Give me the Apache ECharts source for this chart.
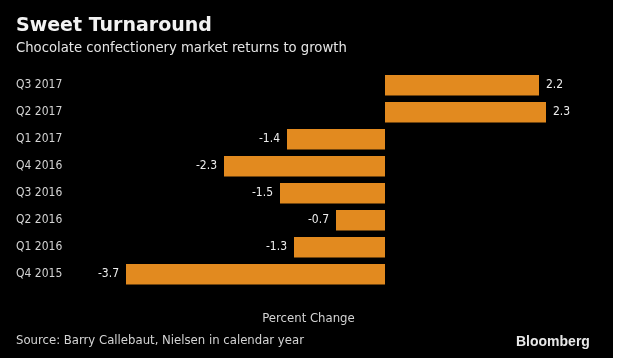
<!DOCTYPE html>
<html>
<head>
<meta charset="utf-8">
<script src="https://cdn.jsdelivr.net/npm/echarts@6/dist/echarts.min.js"></script>
<style>
html,body{margin:0;padding:0;background:#fff;}
#c{width:613px;height:358px;background:#000;}
</style>
</head>
<body>
<div id="c"></div>
<script>
const categories = ['Q3 2017','Q2 2017','Q1 2017','Q4 2016','Q3 2016','Q2 2016','Q1 2016','Q4 2015'];
const values = [2.2, 2.3, -1.4, -2.3, -1.5, -0.7, -1.3, -3.7];
const titleText = 'Sweet Turnaround';
const subtitleText = 'Chocolate confectionery market returns to growth';
const axisTitle = 'Percent Change';
const sourceText = 'Source: Barry Callebaut, Nielsen in calendar year';
const brandText = 'Bloomberg';

const COND = '"DejaVu Sans Condensed","Liberation Sans Narrow","DejaVu Sans",sans-serif';
const chart = echarts.init(document.getElementById('c'), null, {renderer:'canvas'});
chart.setOption({
  backgroundColor:'#000',
  animation:false,
  grid:{left:105,right:18,top:71.75,bottom:70.25,containLabel:false},
  xAxis:{type:'value',min:-4,max:3,show:false,splitLine:{show:false}},
  yAxis:{type:'category',inverse:true,data:categories,
    axisLine:{show:false},axisTick:{show:false},splitLine:{show:false},
    axisLabel:{align:'left',margin:89,color:'#d4d4d4',fontSize:12,fontFamily:COND}},
  series:[{type:'bar',barWidth:20.5,
    data: values.map(v=>({value:v,label:{position:v>=0?'right':'left'}})),
    itemStyle:{color:'#E28A1F'},
    label:{show:true,distance:7,color:'#eeeeee',fontSize:12,fontFamily:COND,
      formatter:p=>String(p.value)}
  }],
  graphic:[
    {type:'text',x:16,y:26.5,style:{text:titleText,font:'bold 19px "DejaVu Sans",sans-serif',fill:'#f2f2f2',align:'left',verticalAlign:'middle'}},
    {type:'text',x:16,y:48,style:{text:subtitleText,font:'14.7px '+COND,fill:'#e6e6e6',align:'left',verticalAlign:'middle'}},
    {type:'text',x:308.5,y:318.5,style:{text:axisTitle,font:'13px '+COND,fill:'#d4d4d4',align:'center',verticalAlign:'middle'}},
    {type:'text',x:16,y:340.5,style:{text:sourceText,font:'13px '+COND,fill:'#d4d4d4',align:'left',verticalAlign:'middle'}},
    {type:'text',x:516,y:342,style:{text:brandText,font:'bold 14px "Liberation Sans",Arial,sans-serif',fill:'#e8e8e8',align:'left',verticalAlign:'middle'}}
  ]
});
</script>
</body>
</html>
